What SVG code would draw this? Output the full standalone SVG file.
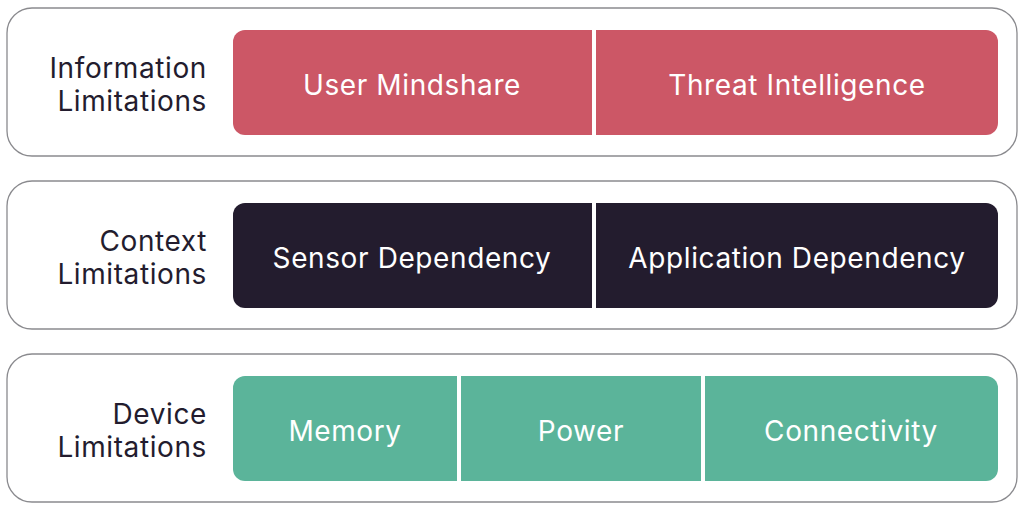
<svg xmlns="http://www.w3.org/2000/svg" width="1024" height="510" viewBox="0 0 1024 510">
<style>
.outer{fill:#fff;stroke:#8a8a8e;stroke-width:1.3}
.lbl{font-family:Inter,"Noto Sans",sans-serif;font-size:28px;letter-spacing:0.6px;fill:#231c2e;text-anchor:end}
.cell{font-family:Inter,"Noto Sans",sans-serif;font-size:28px;letter-spacing:0.6px;fill:#fff;text-anchor:middle}
.red{fill:#cc5766}.dark{fill:#231c2e}.green{fill:#5bb49a}
.sep{stroke:#fff;stroke-width:4}
</style>
<rect width="1024" height="510" fill="#fff"/>
<g id="row-information">
<rect class="outer" x="7" y="8" width="1010" height="148" rx="25"/>
<text class="lbl" x="207" y="78">Information</text>
<text class="lbl" x="207" y="111">Limitations</text>
<rect class="red" x="233" y="30" width="765" height="105" rx="12"/>
<line class="sep" x1="594" y1="30" x2="594" y2="135"/>
<text class="cell" x="412" y="95">User Mindshare</text>
<text class="cell" x="797" y="95">Threat Intelligence</text>
</g>
<g id="row-context">
<rect class="outer" x="7" y="181" width="1010" height="148" rx="25"/>
<text class="lbl" x="207" y="251">Context</text>
<text class="lbl" x="207" y="284">Limitations</text>
<rect class="dark" x="233" y="203" width="765" height="105" rx="12"/>
<line class="sep" x1="594" y1="203" x2="594" y2="308"/>
<text class="cell" x="412" y="268">Sensor Dependency</text>
<text class="cell" x="797" y="268">Application Dependency</text>
</g>
<g id="row-device">
<rect class="outer" x="7" y="354" width="1010" height="148" rx="25"/>
<text class="lbl" x="207" y="424">Device</text>
<text class="lbl" x="207" y="457">Limitations</text>
<rect class="green" x="233" y="376" width="765" height="105" rx="12"/>
<line class="sep" x1="459" y1="376" x2="459" y2="481"/>
<line class="sep" x1="703" y1="376" x2="703" y2="481"/>
<text class="cell" x="345" y="441">Memory</text>
<text class="cell" x="581" y="441">Power</text>
<text class="cell" x="851" y="441">Connectivity</text>
</g>
<g id="connectors"/>
</svg>
